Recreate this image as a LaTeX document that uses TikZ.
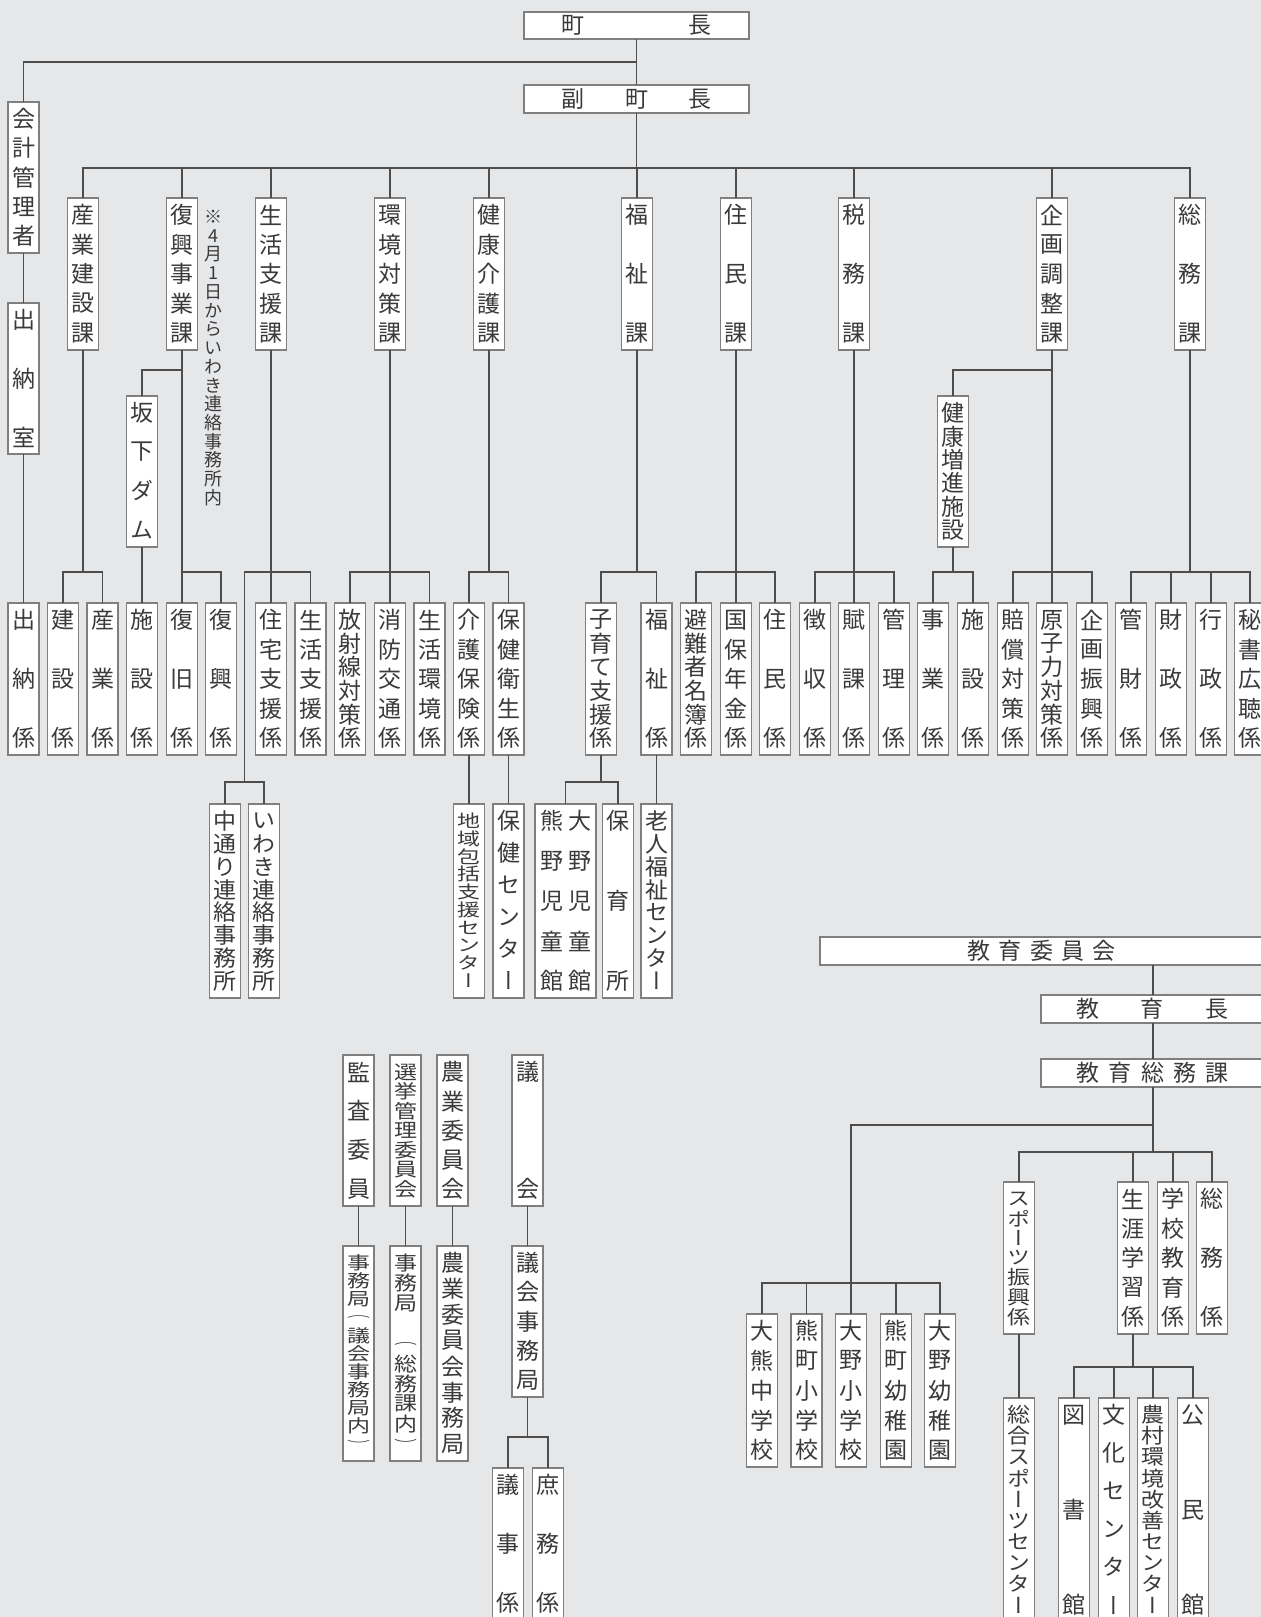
\documentclass[tikz,border=0pt]{standalone}
\usepackage{fontspec}
\usepackage{graphicx}
\usetikzlibrary{calc}
\newfontfamily\jpv{Noto Sans CJK JP}[RawFeature=+vert]
\newfontfamily\jph{Noto Sans CJK JP}
\definecolor{bgc}{HTML}{E6E7E9}
\definecolor{boxc}{HTML}{7F7F7F}
\definecolor{linec}{HTML}{4D4D4D}
\definecolor{txtc}{HTML}{3A3A3A}
\newcommand\lpar{\scalebox{1}[0.55]{（}}
\newcommand\rpar{\scalebox{1}[0.55]{）}}
\tikzset{
 bx/.style={draw=boxc, fill=white, line width=0.6pt, inner sep=0pt, outer sep=0pt, rectangle},
 ln/.style={draw=linec, line width=0.65pt},
 ch/.style={inner sep=0pt, text=txtc, font=\jpv\fontsize{11.5}{12}\selectfont},
 chh/.style={inner sep=0pt, text=txtc, font=\jph\fontsize{11.5}{12}\selectfont},
 notech/.style={inner sep=0pt, text=txtc, font=\jpv\fontsize{9}{10}\selectfont},
}
% box: name x1 y1 x2 y2 (pixel units)
\newcommand\BX[5]{%
  \pgfmathsetmacro\bxw{((#4)-(#2))*0.5}%
  \pgfmathsetmacro\bxh{((#5)-(#3))*0.5}%
  \node[bx, minimum width=\bxw pt, minimum height=\bxh pt] (#1) at ({((#2)+(#4))/2},{((#3)+(#5))/2}) {};%
}
% vertical text: name cx top bottom list
\newcommand\VT[5]{%
  \xdef\vtn{0}%
  \foreach \c in {#5}{\pgfmathtruncatemacro\vtt{\vtn+1}\xdef\vtn{\vtt}}%
  \pgfmathsetmacro\vtp{((#4)-(#3)-34)/(\vtn-1)}%
  \pgfmathsetmacro\vts{min(1,\vtp/23.5)}%
  \foreach \c [count=\i] in {#5}{\node[ch] (#1-\i) at (#2,{(#3)+17+(\i-1)*\vtp}) {\scalebox{1}[\vts]{\c}};}%
}
\newcommand\VB[5]{\BX{#1}{(#2)-15.5}{#3}{(#2)+15.5}{#4}\VT{#1t}{#2}{#3}{#4}{#5}}
\begin{document}
\begin{tikzpicture}[x=0.5pt,y=-0.5pt]
\fill[bgc] (0,0) rectangle (1261,1617);
\useasboundingbox (0,0) rectangle (1261,1617);
% bracket levels
\coordinate (y62) at (0,62);
\coordinate (y168) at (0,168);
\coordinate (y370) at (0,370);
\coordinate (y572) at (0,572);
\coordinate (y782) at (0,782);
\coordinate (y1125) at (0,1125);
\coordinate (y1152) at (0,1152);
\coordinate (y1283) at (0,1283);
\coordinate (y1367) at (0,1367);
\coordinate (y1437) at (0,1437);
\coordinate (ex) at (1153,0);

% ---------- top ----------
\BX{chou}{524}{12}{749}{39}
\node[chh] (chou-1) at (573,25.5) {町};
\node[chh] (chou-2) at (700,25.5) {長};
\BX{fuku}{524}{85}{749}{113}
\node[chh] (fuku-1) at (573,99) {副};
\node[chh] (fuku-2) at (637,99) {町};
\node[chh] (fuku-3) at (700,99) {長};

\VB{kaikei}{23.5}{102}{253}{会,計,管,理,者}
\VB{suito}{23.5}{303}{454}{出,納,室}

% sections
\VB{s1}{83}{198}{350}{産,業,建,設,課}
\VB{s2}{182}{198}{350}{復,興,事,業,課}
\VB{s3}{271}{198}{350}{生,活,支,援,課}
\VB{s4}{390}{198}{350}{環,境,対,策,課}
\VB{s5}{489}{198}{350}{健,康,介,護,課}
\VB{s6}{637}{198}{350}{福,祉,課}
\VB{s7}{736}{198}{350}{住,民,課}
\VB{s8}{854}{198}{350}{税,務,課}
\VB{s9}{1052}{198}{350}{企,画,調,整,課}
\VB{s10}{1190}{198}{350}{総,務,課}

\VB{dam}{142}{396}{547}{坂,下,ダ,ム}
\VB{kenkou}{953}{396}{547}{健,康,増,進,施,設}

% note
\foreach \c [count=\i] in {※,4,月,1,日,か,ら,い,わ,き,連,絡,事,務,所,内}
  {\node[notech] (note-\i) at (213,{217+(\i-1)*18.7}) {\c};}

% row of 係
\VB{k1}{23.5}{603}{755}{出,納,係}
\VB{k2}{63}{603}{755}{建,設,係}
\VB{k3}{102.5}{603}{755}{産,業,係}
\VB{k4}{142}{603}{755}{施,設,係}
\VB{k5}{182}{603}{755}{復,旧,係}
\VB{k6}{221}{603}{755}{復,興,係}
\VB{k7}{271}{603}{755}{住,宅,支,援,係}
\VB{k8}{310.5}{603}{755}{生,活,支,援,係}
\VB{k9}{350}{603}{755}{放,射,線,対,策,係}
\VB{k10}{390}{603}{755}{消,防,交,通,係}
\VB{k11}{429.5}{603}{755}{生,活,環,境,係}
\VB{k12}{469}{603}{755}{介,護,保,険,係}
\VB{k13}{508.5}{603}{755}{保,健,衛,生,係}
\VB{k14}{601}{603}{755}{子,育,て,支,援,係}
\VB{k15}{656.5}{603}{755}{福,祉,係}
\VB{k16}{696}{603}{755}{避,難,者,名,簿,係}
\VB{k17}{736}{603}{755}{国,保,年,金,係}
\VB{k18}{775}{603}{755}{住,民,係}
\VB{k19}{815}{603}{755}{徴,収,係}
\VB{k20}{854}{603}{755}{賦,課,係}
\VB{k21}{894}{603}{755}{管,理,係}
\VB{k22}{933}{603}{755}{事,業,係}
\VB{k23}{973}{603}{755}{施,設,係}
\VB{k24}{1013}{603}{755}{賠,償,対,策,係}
\VB{k25}{1052}{603}{755}{原,子,力,対,策,係}
\VB{k26}{1092}{603}{755}{企,画,振,興,係}
\VB{k27}{1131}{603}{755}{管,財,係}
\VB{k28}{1171}{603}{755}{財,政,係}
\VB{k29}{1211}{603}{755}{行,政,係}
\VB{k30}{1250}{603}{755}{秘,書,広,聴,係}

% level 3
\VB{naka}{225}{804}{998}{中,通,り,連,絡,事,務,所}
\VB{iwaki}{264}{804}{998}{い,わ,き,連,絡,事,務,所}
\VB{chiiki}{469}{804}{998}{地,域,包,括,支,援,セ,ン,タ,ー}
\VB{hoken}{508.5}{804}{998}{保,健,セ,ン,タ,ー}
\BX{jidou}{535}{804}{596}{998}
\VT{jidouA}{552}{804}{998}{熊,野,児,童,館}
\VT{jidouB}{580}{804}{998}{大,野,児,童,館}
\VB{hoiku}{618}{804}{998}{保,育,所}
\VB{roujin}{656.5}{804}{998}{老,人,福,祉,セ,ン,タ,ー}

% lower left
\VB{kansa}{358.5}{1055}{1206}{監,査,委,員}
\VB{senkyo}{405.5}{1055}{1206}{選,挙,管,理,委,員,会}
\VB{nougyou}{452.5}{1055}{1206}{農,業,委,員,会}
\VB{gikai}{527.5}{1055}{1206}{議,会}
\VB{kansaj}{358.5}{1246}{1461}{事,務,局,\lpar,議,会,事,務,局,内,\rpar}
\VB{senkyoj}{405.5}{1246}{1461}{事,務,局,{},\lpar,総,務,課,内,\rpar}
\VB{nougyouj}{452.5}{1246}{1461}{農,業,委,員,会,事,務,局}
\VB{gikaij}{527.5}{1246}{1397}{議,会,事,務,局}
\VB{giji}{508}{1468}{1620}{議,事,係}
\VB{shomu}{548}{1468}{1620}{庶,務,係}

% education
\BX{kyoui}{820}{937}{1265}{965}
\foreach \c [count=\i] in {教,育,委,員,会}
  {\node[chh] (kyoui-\i) at ({979+(\i-1)*31.3},951) {\c};}
\BX{kyocho}{1041}{995}{1265}{1023}
\node[chh] (kyocho-1) at (1088,1009) {教};
\node[chh] (kyocho-2) at (1152,1009) {育};
\node[chh] (kyocho-3) at (1217,1009) {長};
\BX{kyomu}{1041}{1059}{1265}{1087}
\foreach \c [count=\i] in {教,育,総,務,課}
  {\node[chh] (kyomu-\i) at ({1088+(\i-1)*32.25},1073) {\c};}

\VB{sch1}{762}{1314}{1467}{大,熊,中,学,校}
\VB{sch2}{806.5}{1314}{1467}{熊,町,小,学,校}
\VB{sch3}{851}{1314}{1467}{大,野,小,学,校}
\VB{sch4}{896}{1314}{1467}{熊,町,幼,稚,園}
\VB{sch5}{940}{1314}{1467}{大,野,幼,稚,園}

\VB{e1}{1019}{1182}{1334}{ス,ポ,ー,ツ,振,興,係}
\VB{e2}{1133}{1182}{1334}{生,涯,学,習,係}
\VB{e3}{1173}{1182}{1334}{学,校,教,育,係}
\VB{e4}{1212}{1182}{1334}{総,務,係}
\VB{sports}{1019}{1398}{1622}{総,合,ス,ポ,ー,ツ,セ,ン,タ,ー}
\VB{tosho}{1074}{1398}{1622}{図,書,館}
\VB{bunka}{1114}{1398}{1622}{文,化,セ,ン,タ,ー}
\VB{noson}{1153}{1398}{1622}{農,村,環,境,改,善,セ,ン,タ,ー}
\VB{komin}{1193}{1398}{1622}{公,民,館}

% ---------- connectors ----------
\draw[ln] (chou) -- (fuku);
\draw[ln] (kaikei.north) |- (chou.south |- y62);
\draw[ln] (kaikei) -- (suito);
\draw[ln] (suito) -- (k1);
\draw[ln] (fuku.south) -- (fuku.south |- y168);
\draw[ln] (s1.north) |- (s10.north |- y168) -- (s10.north);
\foreach \s in {s2,s3,s4,s5,s6,s7,s8,s9} {\draw[ln] (\s.north) -- (\s.north |- y168);}
% 産業建設課
\draw[ln] (s1.south) -- (s1.south |- y572);
\draw[ln] (k2.north) |- (k3.north |- y572) -- (k3.north);
% 復興事業課
\draw[ln] (s2) -- (k5);
\draw[ln] (dam.north) |- (s2.south |- y370);
\draw[ln] (dam) -- (k4);
\draw[ln] (k5.north |- y572) -- (k6.north |- y572) -- (k6.north);
% 生活支援課
\draw[ln] (s3) -- (k7);
\coordinate (m1) at ($(naka.north)!0.5!(iwaki.north)$);
\draw[ln] (k8.north) |- (m1 |- y572) -- (m1 |- y782);
\draw[ln] (naka.north) |- (iwaki.north |- y782) -- (iwaki.north);
% 環境対策課
\draw[ln] (s4) -- (k10);
\draw[ln] (k9.north) |- (k11.north |- y572) -- (k11.north);
% 健康介護課
\draw[ln] (s5.south) -- (s5.south |- y572);
\draw[ln] (k12.north) |- (k13.north |- y572) -- (k13.north);
% 福祉課
\draw[ln] (s6.south) -- (s6.south |- y572);
\draw[ln] (k14.north) |- (k15.north |- y572) -- (k15.north);
% 住民課
\draw[ln] (s7) -- (k17);
\draw[ln] (k16.north) |- (k18.north |- y572) -- (k18.north);
% 税務課
\draw[ln] (s8) -- (k20);
\draw[ln] (k19.north) |- (k21.north |- y572) -- (k21.north);
% 企画調整課
\draw[ln] (s9) -- (k25);
\draw[ln] (kenkou.north) |- (s9.south |- y370);
\draw[ln] (kenkou.south) -- (kenkou.south |- y572);
\draw[ln] (k22.north) |- (k23.north |- y572) -- (k23.north);
\draw[ln] (k24.north) |- (k26.north |- y572) -- (k26.north);
% 総務課
\draw[ln] (s10.south) -- (s10.south |- y572);
\draw[ln] (k27.north) |- (k30.north |- y572) -- (k30.north);
\draw[ln] (k28.north) -- (k28.north |- y572);
\draw[ln] (k29.north) -- (k29.north |- y572);
% level 3
\draw[ln] (k12) -- (chiiki);
\draw[ln] (k13) -- (hoken);
\draw[ln] (k15) -- (roujin);
\draw[ln] (k14.south) -- (k14.south |- y782);
\draw[ln] (jidou.north) |- (hoiku.north |- y782) -- (hoiku.north);
% lower left
\draw[ln] (kansa) -- (kansaj);
\draw[ln] (senkyo) -- (senkyoj);
\draw[ln] (nougyou) -- (nougyouj);
\draw[ln] (gikai) -- (gikaij);
\draw[ln] (gikaij.south) -- (gikaij.south |- y1437);
\draw[ln] (giji.north) |- (shomu.north |- y1437) -- (shomu.north);
% education
\draw[ln] (kyoui.south -| ex) -- (kyocho.north -| ex);
\draw[ln] (kyocho.south -| ex) -- (kyomu.north -| ex);
\draw[ln] (kyomu.south -| ex) -- (ex |- y1152);
\draw[ln] (sch3.north) |- (ex |- y1125);
\draw[ln] (sch1.north) |- (sch5.north |- y1283) -- (sch5.north);
\draw[ln] (sch2.north) -- (sch2.north |- y1283);
\draw[ln] (sch4.north) -- (sch4.north |- y1283);
\draw[ln] (e1.north) |- (e4.north |- y1152) -- (e4.north);
\draw[ln] (e2.north) -- (e2.north |- y1152);
\draw[ln] (e3.north) -- (e3.north |- y1152);
\draw[ln] (e1) -- (sports);
\draw[ln] (e2.south) -- (e2.south |- y1367);
\draw[ln] (tosho.north) |- (komin.north |- y1367) -- (komin.north);
\draw[ln] (bunka.north) -- (bunka.north |- y1367);
\draw[ln] (noson.north) -- (noson.north |- y1367);
\end{tikzpicture}
\end{document}
